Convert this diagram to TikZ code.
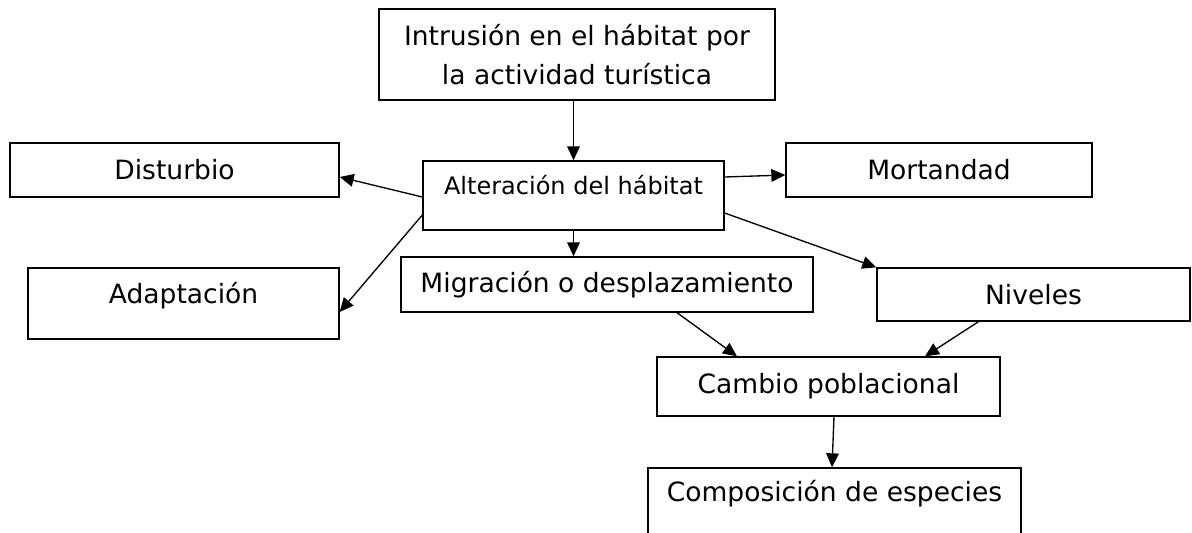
\documentclass[tikz,border=0pt]{standalone}
\usepackage{fontspec}
\setmainfont{DejaVu Sans}
\usetikzlibrary{arrows.meta,calc}

\begin{document}
\begin{tikzpicture}[x=0.75pt, y=-0.75pt, line width=1pt, main/.style 2 args = {draw, rectangle, inner sep=0pt, minimum width=#1*0.75pt, minimum height=#2*0.75pt, font=\fontsize{19.9}{29}\selectfont}, arr/.style = {-{Triangle[length=10.5pt, width=9.5pt]}}] 
\useasboundingbox (0,0) rectangle (1192,532);
\node[main={396}{91}, align=center] (1) at (577,54.5) {Intrusión en el hábitat por\\la actividad turística}; 
\node[main={329}{54}] (2) at (174.5,170) {Disturbio}; 
\node[main={301}{69}, font=\fontsize{18}{22}\selectfont, text height=13.7pt, text depth=14.8pt] (3) at (573.5,195.5) {Alteración del hábitat}; 
\node[main={306}{54}] (4) at (939,170) {Mortandad}; 
\node[main={311}{71}, text height=15.1pt, text depth=15pt] (5) at (183.5,303.5) {Adaptación}; 
\node[main={412}{55}] (6) at (607,284.5) {Migración o desplazamiento}; 
\node[main={313}{53}] (7) at (1033.5,294.5) {Niveles}; 
\node[main={343}{59}] (8) at (828.5,386.5) {Cambio poblacional}; 
\node[main={373}{77}, text height=15.1pt, text depth=22.4pt] (9) at (834.5,506.5) {Composición de especies}; 
\draw[arr] (1.south -| 3.north) -- (3.north); 
\draw[arr] ($(3.west)+(0,1.5)$) -- ($(2.east)+(0,7)$); 
\draw[arr] ($(3.west)+(0,19.5)$) -- ($(5.east)+(0,8.5)$); 
\draw[arr] ($(3.east)+(0,-18.5)$) -- ($(4.west)+(0,5)$); 
\draw[arr] ($(3.east)+(0,17.5)$) -- (7.north west); 
\draw[arr] (3.south) -- (3.south |- 6.north); 
\draw[arr] ($(6.south)+(70,0)$) -- ($(8.north)+(-91.5,0)$); 
\draw[arr] ($(7.south)+(-55,0)$) -- ($(8.north)+(96.5,0)$); 
\draw[arr] ($(8.south)+(5.5,0)$) -- ($(9.north)+(-2.5,0)$); 
\end{tikzpicture}
\end{document}
